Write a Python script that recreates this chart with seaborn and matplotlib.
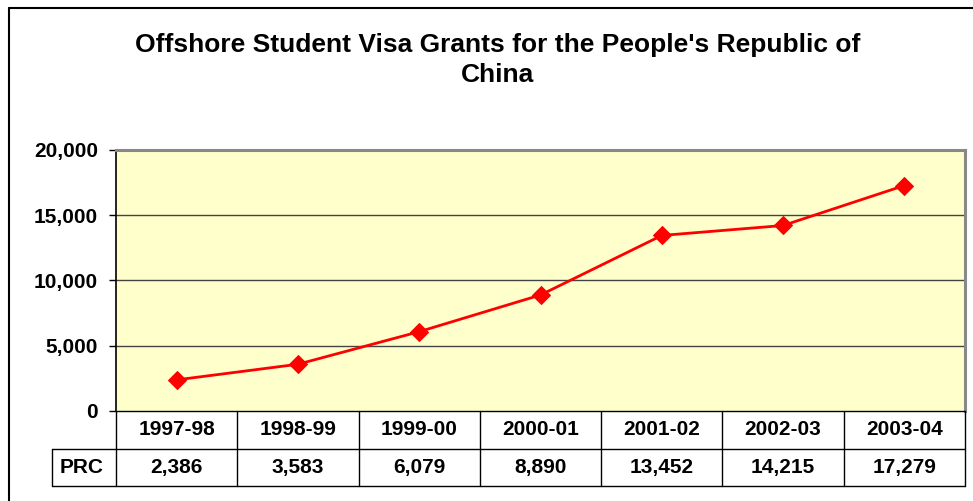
import matplotlib
matplotlib.use("Agg")
import matplotlib.pyplot as plt
import seaborn as sns
import pandas as pd
from matplotlib.lines import Line2D

years = ["1997-98", "1998-99", "1999-00", "2000-01", "2001-02", "2002-03", "2003-04"]
grants = [2386, 3583, 6079, 8890, 13452, 14215, 17279]
series_name = "PRC"
yticks = [0, 5000, 10000, 15000, 20000]
title_lines = ["Offshore Student Visa Grants for the People's Republic of", "China"]

sns.set_theme(style="white")
plt.rcParams['font.family'] = ['Liberation Sans', 'DejaVu Sans']
plt.rcParams['font.weight'] = 'bold'
plt.rcParams['text.color'] = 'black'

df = pd.DataFrame({"year": years, "grants": grants, "x": range(len(years))})

W, H = 973, 501
fig = plt.figure(figsize=(W / 100, H / 100), dpi=100)
fig.patch.set_facecolor("white")

# outer chart border
fig.add_artist(Line2D([9 / W, 9 / W], [0, 1 - 8 / H], color="black", lw=1.5, transform=fig.transFigure))
fig.add_artist(Line2D([9 / W, 1], [1 - 8 / H, 1 - 8 / H], color="black", lw=1.5, transform=fig.transFigure))

L, R = 116 / W, 965 / W
T, B = 1 - 150 / H, 1 - 411 / H
ax = fig.add_axes([L, B, R - L, T - B])
ax.set_facecolor("#FFFFCC")

sns.lineplot(data=df, x="x", y="grants", ax=ax, color="#FF0000", lw=2,
             marker="D", markersize=9, markeredgecolor="#FF0000", markerfacecolor="#FF0000")

FS = 15
ax.set_xlim(-0.5, len(years) - 0.5)
ax.set_ylim(0, 20000)
ax.set_yticks(yticks)
ax.set_yticklabels([f"{v:,}" for v in yticks], fontsize=FS, fontweight="bold")
ax.set_xticks([])
ax.set_xlabel("")
ax.set_ylabel("")
for y in yticks[1:-1]:
    ax.axhline(y, color="#444444", lw=1, zorder=0.5)
ax.tick_params(axis="y", left=True, length=5, width=1, color="black", pad=8, labelcolor="black")
ax.spines["left"].set_color("black")
ax.spines["left"].set_linewidth(1.2)
for s in ["top", "right"]:
    ax.spines[s].set_color("#888888")
    ax.spines[s].set_linewidth(2.2)
ax.spines["bottom"].set_visible(False)

# data table
tT, tB = 1 - 411 / H, 1 - 486 / H
tax = fig.add_axes([L, tB, R - L, tT - tB])
tax.set_xlim(-0.5, len(years) - 0.5)
tax.set_ylim(0, 2)
tax.axis("off")
colw = (R - L) * W / len(years)
lab_left = -0.5 - (116 - 52) / colw
kw = dict(color="black", lw=1, clip_on=False)
tax.plot([-0.5, len(years) - 0.5], [2, 2], **kw)
tax.plot([lab_left, len(years) - 0.5], [1, 1], **kw)
tax.plot([lab_left, len(years) - 0.5], [0, 0], **kw)
tax.plot([lab_left, lab_left], [0, 1], **kw)
for i in range(len(years) + 1):
    tax.plot([i - 0.5, i - 0.5], [0, 2], **kw)
for i, (yr, v) in enumerate(zip(years, grants)):
    tax.text(i, 1.5, yr, ha="center", va="center", fontsize=FS, fontweight="bold", clip_on=False)
    tax.text(i, 0.5, f"{v:,}", ha="center", va="center", fontsize=FS, fontweight="bold", clip_on=False)
tax.text(lab_left + 8 / colw, 0.5, series_name, ha="left", va="center", fontsize=FS, fontweight="bold", clip_on=False)

for k, line in enumerate(title_lines):
    fig.text(498 / W, 1 - (45 + 30 * k) / H, line, ha="center", va="center", fontsize=19,
             fontweight="bold", color="black")

fig.savefig("out.png", dpi=100)
